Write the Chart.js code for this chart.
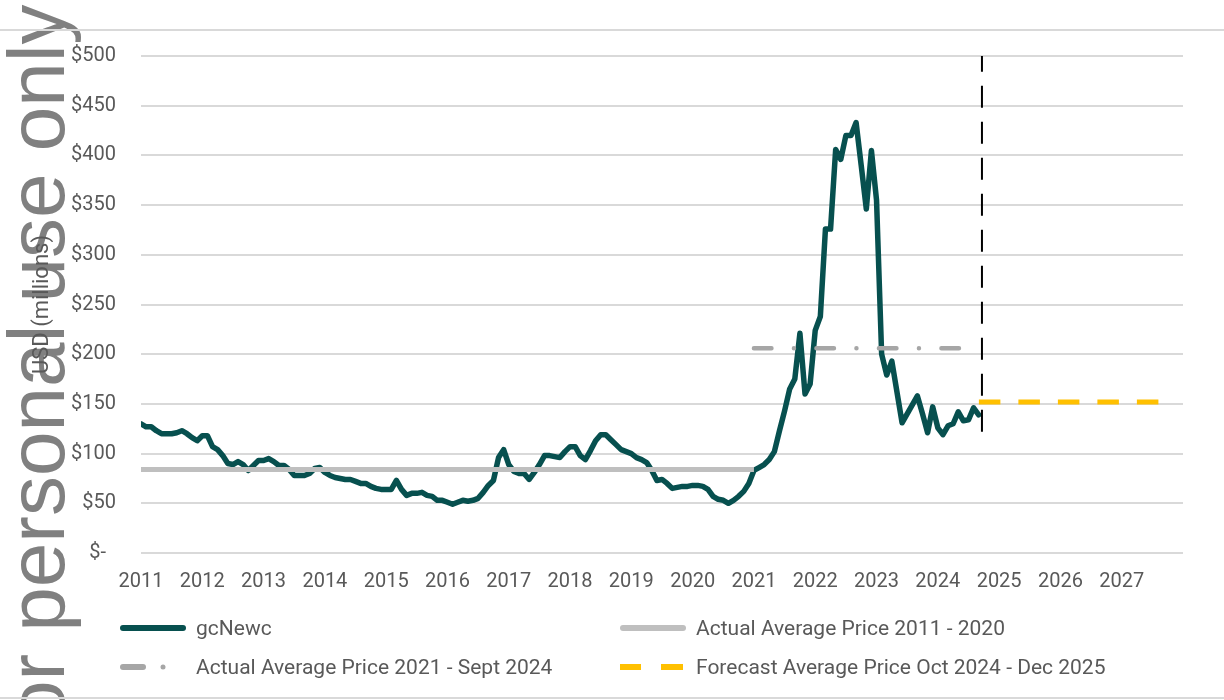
<!DOCTYPE html>
<html>
<head>
<meta charset="utf-8">
<script src="https://cdn.jsdelivr.net/npm/chart.js@4.4.1/dist/chart.umd.min.js"></script>
<style>
html,body{margin:0;padding:0;background:#fff;}
#wrap{position:relative;width:1224px;height:700px;overflow:hidden;background:#fff;}
#wm{position:absolute;left:-3px;top:725px;transform-origin:0 0;transform:rotate(-90deg);font-family:"Liberation Sans",Arial,sans-serif;font-size:80px;line-height:1;white-space:nowrap;color:#808080;}
#c{position:absolute;left:0;top:0;}
.frame{position:absolute;left:0;width:1224px;height:2px;background:#d9d9d9;}
.leg{position:absolute;height:30px;display:flex;align-items:center;font-family:Roboto,sans-serif;font-size:21px;color:#595959;white-space:nowrap;}
.leg svg{position:absolute;top:0;}
</style>
</head>
<body>
<div id="wrap">
  <div id="wm">or personal use only</div>
  <div class="frame" style="top:29px"></div>
  <div class="frame" style="top:697px"></div>
  <canvas id="c" width="1224" height="700"></canvas>
  <div id="legend"></div>
</div>
<script>
// ---- data ----
const startYear = 2011;
const yearTicks = [2011,2012,2013,2014,2015,2016,2017,2018,2019,2020,2021,2022,2023,2024,2025,2026,2027];
const gcNewc = [
  130,127,127,123,120,120,120,121,123,120,116,113,
  118,118,107,104,98,90,89,92,89,83,88,93,
  93,95,92,88,88,84,78,78,78,80,85,86,
  81,78,76,75,74,74,72,70,70,67,65,64,
  64,64,73,64,58,60,60,61,58,57,53,53,
  51,49,51,53,52,53,55,61,68,73,96,104,
  89,82,80,80,74,81,89,98,98,97,96,102,
  107,107,98,94,103,113,119,119,114,109,104,102,
  100,96,94,91,83,73,74,70,65,66,67,67,
  68,68,67,64,57,54,53,50,53,57,62,70,
  83,86,89,94,102,123,143,165,175,221,160,170,
  224,238,326,326,406,396,420,420,433,390,346,405,
  355,200,179,193,162,131,140,149,158,140,121,147,
  126,119,128,130,142,133,134,146,139
];
const avg2011to2020Years = [2011, 2021];
const avg2011to2020Values = [84, 84];
const avg2021toSep2024Years = [2021, 2024.67];
const avg2021toSep2024Values = [206, 206];
const forecastYears = [2024.67, 2027.75];
const forecastValues = [152, 152];
const dividerYears = [2024.72, 2024.72];
const dividerValues = [122, 500];
const yTicks = [0,50,100,150,200,250,300,350,400,450,500];
const seriesNames = ['gcNewc','Actual Average Price 2011 - 2020','Actual Average Price 2021 - Sept 2024','Forecast Average Price Oct 2024 - Dec 2025'];

// ---- build ----
const pts = (xs, ys) => xs.map((x, i) => ({x: x, y: ys[i]}));
const gcPoints = gcNewc.map((v, i) => ({x: startYear + i / 12, y: v}));

const TEAL = '#07504f', GREY = '#bfbfbf', GREY2 = '#a6a6a6', GOLD = '#ffc000', TXT = '#595959';

new Chart(document.getElementById('c'), {
  type: 'line',
  data: {
    datasets: [
      {label: 'divider', data: pts(dividerYears, dividerValues), borderColor: '#000', borderWidth: 2, borderDash: [22, 14], pointRadius: 0, order: 0},
      {label: seriesNames[1], data: pts(avg2011to2020Years, avg2011to2020Values), borderColor: GREY, borderWidth: 5, pointRadius: 0, order: 1},
      {label: seriesNames[2], data: pts(avg2021toSep2024Years, avg2021toSep2024Values), borderColor: GREY2, borderWidth: 4.5, borderCapStyle: 'round', borderDash: [17.5, 22.5, 0, 22.5], pointRadius: 0, order: 1},
      {label: seriesNames[3], data: pts(forecastYears, forecastValues), borderColor: GOLD, borderWidth: 5, borderDash: [21.5, 18], pointRadius: 0, order: 1},
      {label: seriesNames[0], data: gcPoints, borderColor: TEAL, borderWidth: 5.5, borderJoinStyle: 'round', borderCapStyle: 'round', pointRadius: 0, tension: 0, order: 2}
    ]
  },
  options: {
    responsive: false,
    animation: false,
    devicePixelRatio: 1,
    layout: {padding: {left: 0, right: 41, top: 56, bottom: 107}},
    plugins: {legend: {display: false}, tooltip: {enabled: false}},
    scales: {
      x: {
        type: 'linear', min: 2011, max: 2028,
        afterBuildTicks: s => { s.ticks = yearTicks.map(v => ({value: v})); },
        afterFit: s => { s.height = 40; },
        grid: {display: false, drawTicks: false},
        border: {display: false},
        ticks: {autoSkip: false, maxRotation: 0, padding: 17, color: TXT, font: {family: 'Roboto', size: 20}, callback: v => String(v)}
      },
      y: {
        min: 0, max: 500,
        afterBuildTicks: s => { s.ticks = yTicks.map(v => ({value: v})); },
        afterFit: s => { s.width = 141; },
        grid: {color: '#d9d9d9', lineWidth: 2, drawTicks: false},
        border: {display: false},
        ticks: {padding: 25, color: TXT, font: {family: 'Roboto', size: 20}, callback: v => v === 0 ? '$-  ' : '$' + v},
        title: {display: true, text: 'USD (millions)', color: TXT, font: {family: 'Roboto', size: 22}, padding: {top: 29, bottom: 0}}
      }
    }
  }
});

// ---- legend ----
const legendItems = [
  {text: seriesNames[0], left: 120, top: 613, svg: '<line x1="3" y1="15" x2="63" y2="15" stroke="'+TEAL+'" stroke-width="6" stroke-linecap="round"/>'},
  {text: seriesNames[1], left: 620, top: 613, svg: '<line x1="3" y1="15" x2="63" y2="15" stroke="'+GREY+'" stroke-width="6" stroke-linecap="round"/>'},
  {text: seriesNames[2], left: 120, top: 652, svg: '<line x1="3" y1="15" x2="23" y2="15" stroke="'+GREY2+'" stroke-width="6" stroke-linecap="round"/><circle cx="43" cy="15" r="2.5" fill="'+GREY2+'"/>'},
  {text: seriesNames[3], left: 620, top: 652, svg: '<line x1="0" y1="15" x2="21" y2="15" stroke="'+GOLD+'" stroke-width="6"/><line x1="41" y1="15" x2="63" y2="15" stroke="'+GOLD+'" stroke-width="6"/>'}
];
const lg = document.getElementById('legend');
legendItems.forEach(it => {
  const d = document.createElement('div');
  d.className = 'leg';
  d.style.left = it.left + 'px';
  d.style.top = it.top + 'px';
  d.innerHTML = '<svg width="70" height="30" style="left:0">' + it.svg + '</svg><span style="margin-left:76px">' + it.text + '</span>';
  lg.appendChild(d);
});
</script>
</body>
</html>
